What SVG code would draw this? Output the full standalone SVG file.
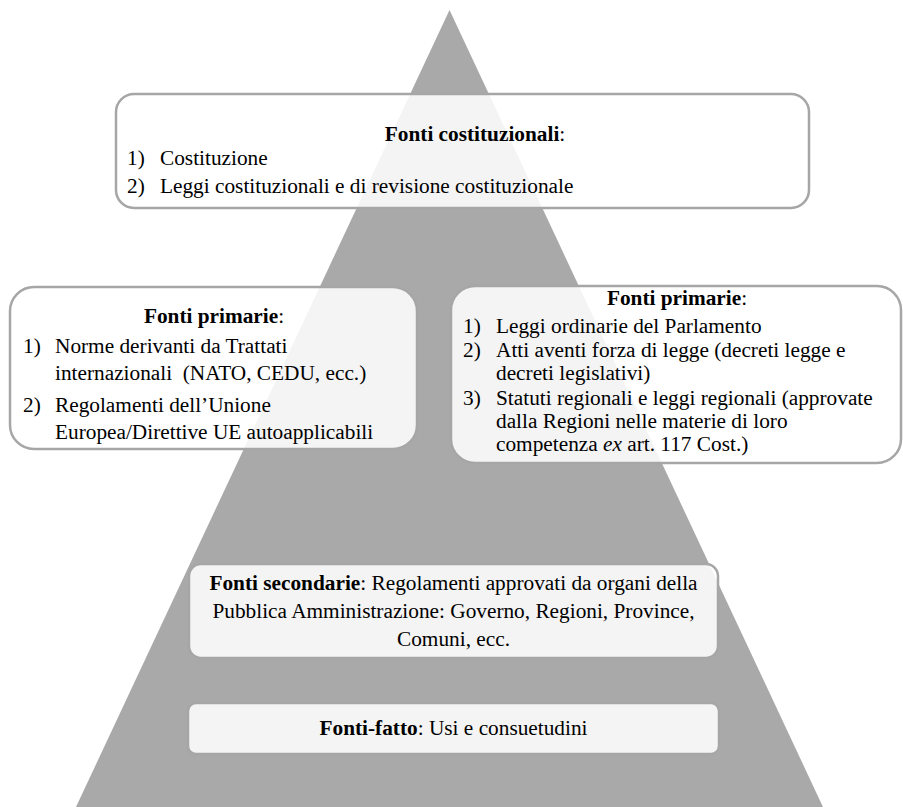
<svg xmlns="http://www.w3.org/2000/svg" width="903" height="807" viewBox="0 0 903 807">
<style>
.box{fill:#ffffff;fill-opacity:0.87;stroke:#a6a6a6;stroke-width:2.5}
text{font-family:"Liberation Serif","Times New Roman",serif;font-size:21.3px;fill:#000}
.b{font-weight:bold}
.c{text-anchor:middle}
</style>
<rect width="903" height="807" fill="#ffffff"/>
<polygon id="pyramid" points="449.5,10 823,807 76,807" fill="#a9a9a9"/>
<g id="connectors"/>
<g id="costituzionali">
<rect class="box" x="116" y="94" width="693" height="114" rx="18"/>
<text x="475" y="141" class="c"><tspan class="b">Fonti costituzionali</tspan>:</text>
<text x="127" y="165">1)</text><text x="160" y="165">Costituzione</text>
<text x="127" y="193">2)</text><text x="160" y="193">Leggi costituzionali e di revisione costituzionale</text>
</g>
<g id="primarie-sx">
<rect class="box" x="10" y="287" width="407" height="162" rx="24"/>
<text x="214" y="323" class="c"><tspan class="b">Fonti primarie</tspan>:</text>
<text x="23" y="353">1)</text><text x="55" y="353">Norme derivanti da Trattati</text>
<text x="55" y="380" xml:space="preserve">internazionali  (NATO, CEDU, ecc.)</text>
<text x="23" y="412">2)</text><text x="55" y="412">Regolamenti dell’Unione</text>
<text x="55" y="439">Europea/Direttive UE autoapplicabili</text>
</g>
<g id="primarie-dx">
<rect class="box" x="451" y="286" width="450" height="177" rx="24"/>
<text x="677" y="305" class="c"><tspan class="b">Fonti primarie</tspan>:</text>
<text x="463" y="333">1)</text><text x="496" y="333">Leggi ordinarie del Parlamento</text>
<text x="463" y="357">2)</text><text x="496" y="357">Atti aventi forza di legge (decreti legge e</text>
<text x="496" y="380">decreti legislativi)</text>
<text x="463" y="405">3)</text><text x="496" y="405">Statuti regionali e leggi regionali (approvate</text>
<text x="496" y="428">dalla Regioni nelle materie di loro</text>
<text x="496" y="451">competenza <tspan font-style="italic">ex</tspan> art. 117 Cost.)</text>
</g>
<g id="secondarie">
<rect class="box" x="189" y="564" width="529" height="94" rx="12"/>
<text x="453.5" y="590" class="c"><tspan class="b">Fonti secondarie</tspan>: Regolamenti approvati da organi della</text>
<text x="453.5" y="618" class="c">Pubblica Amministrazione: Governo, Regioni, Province,</text>
<text x="453.5" y="646" class="c">Comuni, ecc.</text>
</g>
<g id="fonti-fatto">
<rect class="box" x="188" y="703" width="531" height="51" rx="8"/>
<text x="453.5" y="735" class="c"><tspan class="b">Fonti-fatto</tspan>: Usi e consuetudini</text>
</g>
</svg>
